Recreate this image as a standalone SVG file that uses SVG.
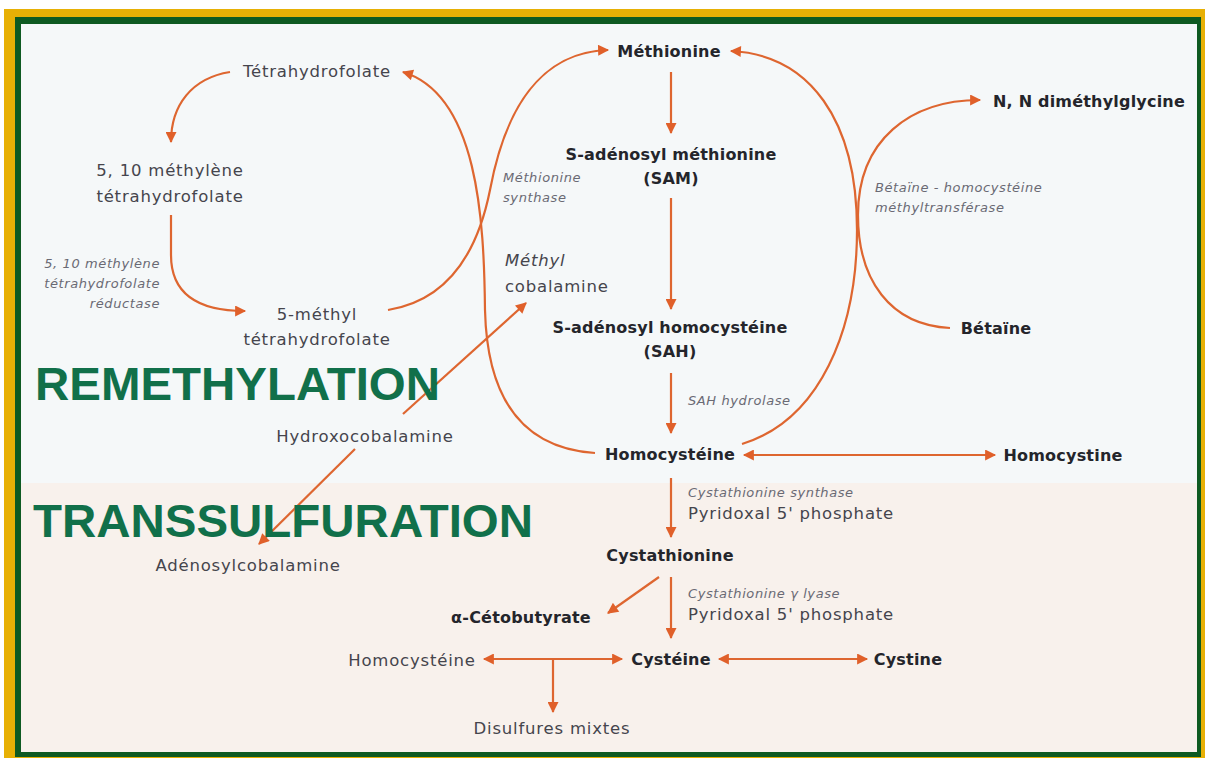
<svg xmlns="http://www.w3.org/2000/svg" width="1205" height="758" viewBox="0 0 1205 758">
<style>
.b{font-family:"DejaVu Sans","Liberation Sans",sans-serif;font-size:16px;font-weight:bold;fill:#24252b;text-anchor:middle;letter-spacing:0.2px}
.r{font-family:"DejaVu Sans","Liberation Sans",sans-serif;font-size:16.5px;fill:#45454d;text-anchor:middle;letter-spacing:0.8px}
.rs{font-family:"DejaVu Sans","Liberation Sans",sans-serif;font-size:16.5px;fill:#45454d;letter-spacing:0.8px}
.i{font-family:"DejaVu Sans","Liberation Sans",sans-serif;font-size:13px;font-style:italic;fill:#6a6a74;letter-spacing:0.6px}
.t{font-family:"Liberation Sans",Arial,sans-serif;font-size:47px;font-weight:bold;fill:#11704a}
.c{fill:none;stroke:#de6630;stroke-width:2.2}
</style>
<defs>
<marker id="ah" viewBox="0 0 10 10" refX="9" refY="5" markerWidth="12" markerHeight="11" markerUnits="userSpaceOnUse" orient="auto-start-reverse">
<path d="M0,0 L10,5 L0,10 z" fill="#e0602a"/>
</marker>
</defs>
<rect x="0" y="0" width="1205" height="758" fill="#ffffff"/>
<rect x="4" y="9" width="1201" height="749" fill="#e7b005"/>
<rect x="15" y="17" width="1186" height="740" fill="#0e5a22"/>
<rect x="21" y="24" width="1176" height="728" fill="#f5f8f9"/>
<rect x="21" y="483" width="1176" height="269" fill="#f8f1ec"/>

<g id="connectors">
<path class="c" d="M230 72 C192 78 171 105 171 142" marker-end="url(#ah)"/>
<path class="c" d="M171 215 L171 255 C171 292 196 311 245 311" marker-end="url(#ah)"/>
<path class="c" d="M388 310 C450 300 478 250 490 190 C505 110 540 52 608 50" marker-end="url(#ah)"/>
<path class="c" d="M595 453 C520 448 487 395 485 310 C484 220 478 95 403 72" marker-end="url(#ah)"/>
<path class="c" d="M403 414 L526 303" marker-end="url(#ah)"/>
<path class="c" d="M355 449 L259 544" marker-end="url(#ah)"/>
<path class="c" d="M671 72 L671 133" marker-end="url(#ah)"/>
<path class="c" d="M671 198 L671 309" marker-end="url(#ah)"/>
<path class="c" d="M671 373 L671 433" marker-end="url(#ah)"/>
<path class="c" d="M742 444 C820 420 857 330 857 230 C857 120 810 55 731 51" marker-end="url(#ah)"/>
<path class="c" d="M950 328 C890 325 858 280 858 215 C858 140 910 100 980 100" marker-end="url(#ah)"/>
<path class="c" d="M744 455 L995 455" marker-start="url(#ah)" marker-end="url(#ah)"/>
<path class="c" d="M671 478 L671 537" marker-end="url(#ah)"/>
<path class="c" d="M671 577 L671 638" marker-end="url(#ah)"/>
<path class="c" d="M659 577 L608 613" marker-end="url(#ah)"/>
<path class="c" d="M484 659 L622 659" marker-start="url(#ah)" marker-end="url(#ah)"/>
<path class="c" d="M553 659 L553 712" marker-end="url(#ah)"/>
<path class="c" d="M719 659 L867 659" marker-start="url(#ah)" marker-end="url(#ah)"/>
</g>

<g id="titles">
<text class="t" x="35" y="400" textLength="405" lengthAdjust="spacingAndGlyphs">REMETHYLATION</text>
<text class="t" x="33" y="537" textLength="500" lengthAdjust="spacingAndGlyphs">TRANSSULFURATION</text>
</g>

<g id="n-thf"><text class="r" x="317" y="77">Tétrahydrofolate</text></g>
<g id="n-mthf"><text class="r" x="170" y="176">5, 10 méthylène</text><text class="r" x="170" y="202">tétrahydrofolate</text></g>
<g id="e-mthfr"><text class="i" x="160" y="268" text-anchor="end">5, 10 méthylène</text><text class="i" x="160" y="288" text-anchor="end">tétrahydrofolate</text><text class="i" x="160" y="308" text-anchor="end">réductase</text></g>
<g id="n-5mthf"><text class="r" x="317" y="320">5-méthyl</text><text class="r" x="317" y="345">tétrahydrofolate</text></g>
<g id="e-ms"><text class="i" x="503" y="182">Méthionine</text><text class="i" x="503" y="202">synthase</text></g>
<g id="n-mecbl"><text class="rs" x="505" y="266" font-style="italic">Méthyl</text><text class="rs" x="505" y="292">cobalamine</text></g>
<g id="n-ohcbl"><text class="r" x="365" y="442">Hydroxocobalamine</text></g>
<g id="n-adocbl"><text class="r" x="248" y="571">Adénosylcobalamine</text></g>
<g id="n-met"><text class="b" x="669" y="57">Méthionine</text></g>
<g id="n-sam"><text class="b" x="671" y="160">S-adénosyl méthionine</text><text class="b" x="671" y="184">(SAM)</text></g>
<g id="n-sah"><text class="b" x="670" y="333">S-adénosyl homocystéine</text><text class="b" x="670" y="357">(SAH)</text></g>
<g id="e-sahh"><text class="i" x="688" y="405" font-size="14">SAH hydrolase</text></g>
<g id="n-hcy"><text class="b" x="670" y="460">Homocystéine</text></g>
<g id="n-hcystine"><text class="b" x="1063" y="461">Homocystine</text></g>
<g id="n-bet"><text class="b" x="996" y="334">Bétaïne</text></g>
<g id="n-dmg"><text class="b" x="1089" y="107">N, N diméthylglycine</text></g>
<g id="e-bhmt"><text class="i" x="875" y="192">Bétaïne - homocystéine</text><text class="i" x="875" y="212">méthyltransférase</text></g>
<g id="e-cbs"><text class="i" x="688" y="497">Cystathionine synthase</text><text class="rs" x="688" y="519">Pyridoxal 5' phosphate</text></g>
<g id="n-cysta"><text class="b" x="670" y="561">Cystathionine</text></g>
<g id="e-cgl"><text class="i" x="688" y="598">Cystathionine γ lyase</text><text class="rs" x="688" y="620">Pyridoxal 5' phosphate</text></g>
<g id="n-akb"><text class="b" x="521" y="623">α-Cétobutyrate</text></g>
<g id="n-cys"><text class="b" x="671" y="665">Cystéine</text></g>
<g id="n-hcy2"><text class="r" x="412" y="666">Homocystéine</text></g>
<g id="n-cystine"><text class="b" x="908" y="665">Cystine</text></g>
<g id="n-disulf"><text class="r" x="552" y="734">Disulfures mixtes</text></g>
</svg>
